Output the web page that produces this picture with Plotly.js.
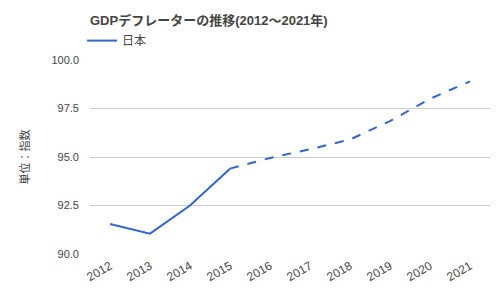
<!DOCTYPE html>
<html>
<head>
<meta charset="utf-8">
<script src="https://cdn.plot.ly/plotly-3.0.1.min.js"></script>
<style>html,body{margin:0;padding:0;background:#fff;}#chart{width:500px;height:300px;}</style>
</head>
<body>
<div id="chart"></div>
<script>
const years = [2012, 2013, 2014, 2015, 2016, 2017, 2018, 2019, 2020, 2021];
const deflator = [91.55, 91.05, 92.5, 94.4, 94.95, 95.4, 95.9, 96.85, 98.0, 98.9];
const tickLabels = ["2012","2013","2014","2015","2016","2017","2018","2019","2020","2021"];
const yTicks = [90, 92.5, 95, 97.5, 100];
const yTickText = ["90.0","92.5","95.0","97.5","100.0"];
const splitIndex = 3; // solid up to 2015, dashed afterwards

const FONT = "Liberation Sans, Arial, Noto Sans CJK JP, sans-serif";
const BLUE = "#3366cc";

const traces = [
  {
    x: years.slice(0, splitIndex + 1),
    y: deflator.slice(0, splitIndex + 1),
    mode: "lines",
    name: "日本",
    line: {color: BLUE, width: 2},
    showlegend: true,
    hoverinfo: "skip"
  },
  {
    x: years.slice(splitIndex),
    y: deflator.slice(splitIndex),
    mode: "lines",
    name: "日本",
    line: {color: BLUE, width: 2, dash: "dash"},
    showlegend: false,
    hoverinfo: "skip"
  }
];

const layout = {
  width: 500,
  height: 300,
  margin: {l: 90, r: 10, t: 60, b: 46},
  paper_bgcolor: "#ffffff",
  plot_bgcolor: "#ffffff",
  font: {family: FONT, size: 11, color: "#444444"},
  title: {
    text: "<b>GDPデフレーターの推移(2012～2021年)</b>",
    font: {family: FONT, size: 13, color: "#444444"},
    x: 90/500, xanchor: "left", xref: "container",
    y: 1 - 20/300, yanchor: "middle", yref: "container"
  },
  showlegend: true,
  legend: {
    x: -0.02, xanchor: "left", y: 1.10, yanchor: "middle",
    orientation: "h",
    font: {family: FONT, size: 12, color: "#444444"},
    itemwidth: 30,
    bgcolor: "rgba(0,0,0,0)"
  },
  xaxis: {
    range: [2011.5, 2021.5],
    tickvals: years,
    ticktext: tickLabels,
    tickangle: -30,
    showgrid: false,
    zeroline: false,
    showline: false,
    ticks: "",
    ticklabelstandoff: 2,
    tickfont: {family: FONT, size: 12, color: "#444444"},
    fixedrange: true
  },
  yaxis: {
    range: [90, 100],
    tickvals: yTicks,
    ticktext: yTickText,
    showgrid: true,
    gridcolor: "#cccccc",
    gridwidth: 1,
    zeroline: false,
    showline: false,
    ticks: "",
    ticklabelstandoff: 10,
    tickfont: {family: FONT, size: 11, color: "#444444"},
    title: {text: "単位：指数", font: {family: FONT, size: 11, color: "#444444"}, standoff: 19},
    fixedrange: true
  }
};

Plotly.newPlot("chart", traces, layout, {staticPlot: true, displayModeBar: false});
</script>
</body>
</html>
